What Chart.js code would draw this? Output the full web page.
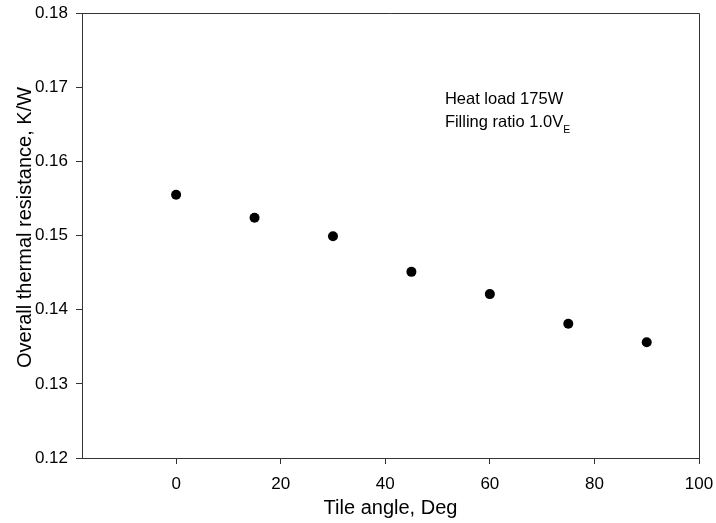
<!DOCTYPE html>
<html>
<head>
<meta charset="utf-8">
<script src="https://cdn.jsdelivr.net/npm/chart.js@4"></script>
<style>
  html, body { margin: 0; padding: 0; background: #fff; }
  #wrap { width: 716px; height: 523px; }
</style>
</head>
<body>
<div id="wrap"><canvas id="resistanceChart" width="716" height="523"></canvas></div>
<script>
// tile angle (deg) and overall thermal resistance (K/W)
const tileAngles = [0, 15, 30, 45, 60, 75, 90];
const resistance = [0.1555, 0.1524, 0.1499, 0.1451, 0.1421, 0.1381, 0.1356];
const xTicks = [0, 20, 40, 60, 80, 100];
const noteLines = ['Heat load 175W', 'Filling ratio 1.0V'];
const noteSub = 'E';
const yTitle = 'Overall thermal resistance, K/W';

const fontFamily = 'Arial, "Liberation Sans", sans-serif';

// box around plot, y title and the text note
const framePlugin = {
    id: 'frame',
    afterDraw(chart) {
        const { ctx, chartArea, scales } = chart;
        ctx.save();
        ctx.strokeStyle = '#333';
        ctx.lineWidth = 1;
        ctx.beginPath();
        ctx.moveTo(chartArea.left, chartArea.top + 0.5);
        ctx.lineTo(chartArea.right + 0.5, chartArea.top + 0.5);
        ctx.lineTo(chartArea.right + 0.5, chartArea.bottom);
        ctx.stroke();

        // y axis title (sits a little above centre in the original)
        ctx.save();
        ctx.fillStyle = '#000';
        ctx.font = '20px ' + fontFamily;
        ctx.textAlign = 'center';
        ctx.textBaseline = 'alphabetic';
        ctx.translate(31, 227.5);
        ctx.rotate(-Math.PI / 2);
        ctx.fillText(yTitle, 0, 0);
        ctx.restore();

        const x0 = scales.x.getPixelForValue(51.4);
        const y0 = scales.y.getPixelForValue(0.1677);
        ctx.fillStyle = '#000';
        ctx.textBaseline = 'alphabetic';
        ctx.font = '16.5px ' + fontFamily;
        ctx.fillText(noteLines[0], x0, y0);
        ctx.fillText(noteLines[1], x0, y0 + 23.2);
        const w = ctx.measureText(noteLines[1]).width;
        ctx.font = '10.5px ' + fontFamily;
        ctx.fillText(noteSub, x0 + w, y0 + 29.2);
        ctx.restore();
    }
};

const ctx = document.getElementById('resistanceChart').getContext('2d');
new Chart(ctx, {
    type: 'scatter',
    data: {
        datasets: [{
            label: 'Overall thermal resistance',
            data: tileAngles.map((a, i) => ({ x: a, y: resistance[i] })),
            pointRadius: 5,
            pointHoverRadius: 5,
            backgroundColor: '#000',
            borderColor: '#000',
            borderWidth: 0,
        }]
    },
    options: {
        responsive: false,
        animation: false,
        layout: { padding: { top: 13, right: 17, left: 0, bottom: 0 } },
        plugins: {
            legend: { display: false },
            tooltip: { enabled: false }
        },
        scales: {
            x: {
                type: 'linear',
                min: -18,
                max: 100,
                afterBuildTicks: (scale) => { scale.ticks = xTicks.map(v => ({ value: v })); },
                afterFit: (scale) => {
                    scale.height = 65;
                    scale.paddingLeft = 0;
                    scale.paddingRight = 0;
                },
                grid: { drawOnChartArea: false, tickLength: 6, color: '#333' },
                border: { color: '#333', width: 1 },
                ticks: { color: '#000', font: { family: fontFamily, size: 17 }, padding: 10, maxRotation: 0 },
                title: {
                    display: true,
                    text: 'Tile angle, Deg',
                    color: '#000',
                    font: { family: fontFamily, size: 20 },
                    padding: { top: 0, bottom: 3 }
                }
            },
            y: {
                min: 0.12,
                max: 0.18,
                afterFit: (scale) => {
                    scale.width = 82;
                    scale.paddingTop = 0;
                    scale.paddingBottom = 0;
                },
                grid: { drawOnChartArea: false, tickLength: 6, color: '#333' },
                border: { color: '#333', width: 1 },
                ticks: {
                    stepSize: 0.01,
                    color: '#000',
                    font: { family: fontFamily, size: 17 },
                    padding: 8,
                    callback: (v) => v.toFixed(2)
                }
            }
        }
    },
    plugins: [framePlugin]
});
</script>
</body>
</html>
